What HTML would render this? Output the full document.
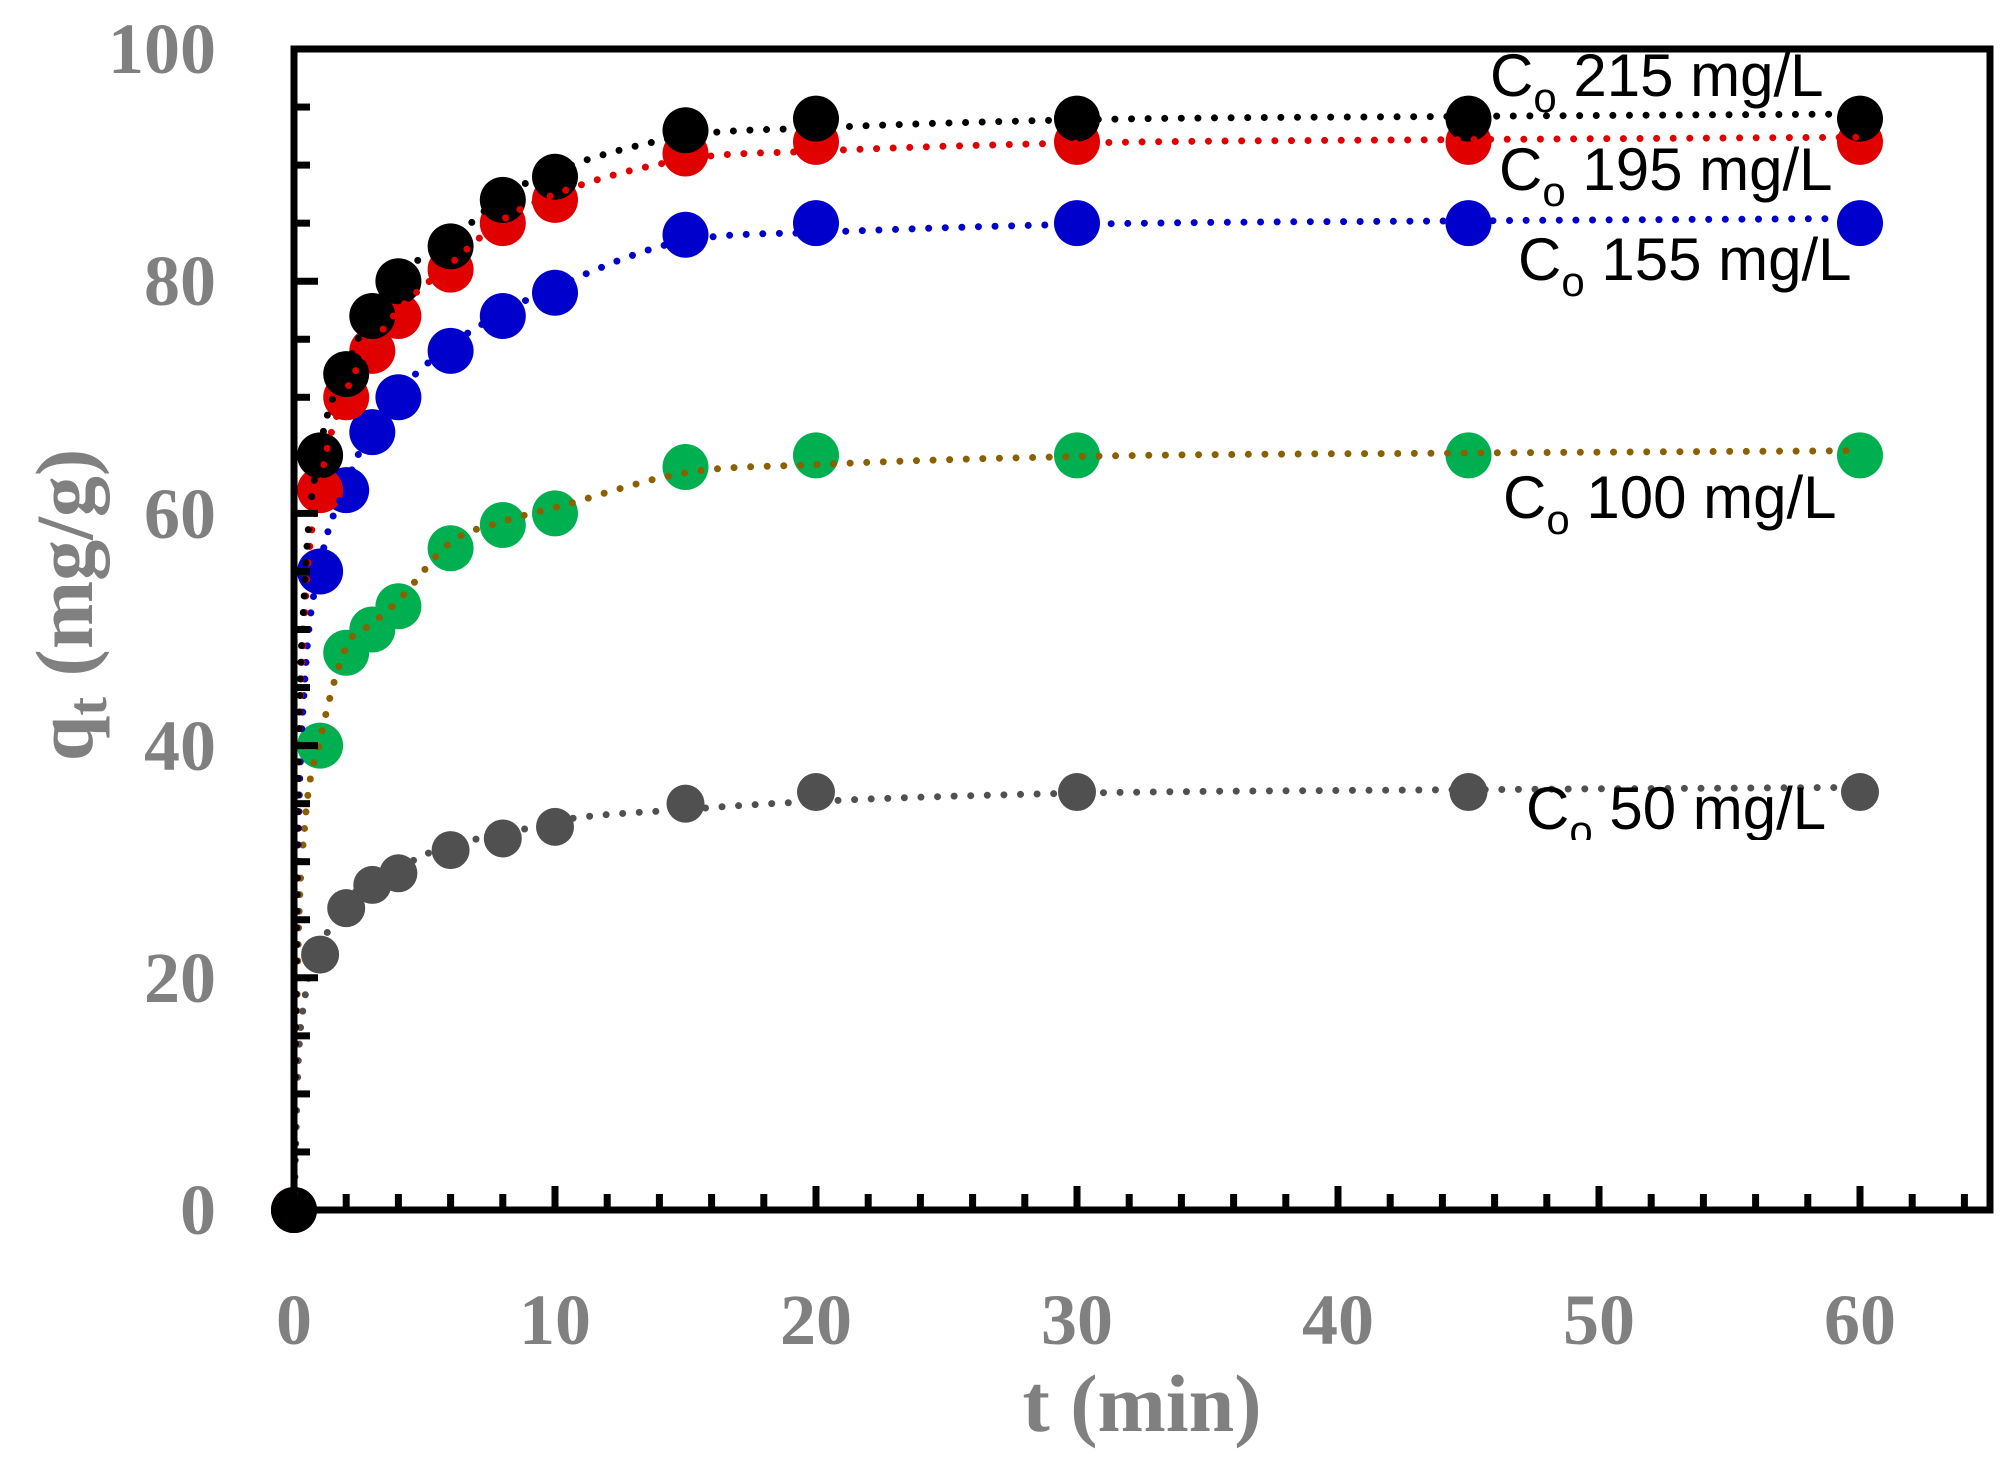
<!DOCTYPE html>
<html><head><meta charset="utf-8"><style>html,body{margin:0;padding:0;background:#fff}svg{display:block}</style></head>
<body>
<svg id="s" width="2016" height="1468" viewBox="0 0 2016 1468" xmlns="http://www.w3.org/2000/svg">
<rect width="2016" height="1468" fill="#fff"/>
<g id="plot"></g>
<g font-family="Liberation Serif, serif" font-weight="bold" fill="#808080" font-size="72">
<text x="216" y="73" text-anchor="end">100</text>
<text x="216" y="305" text-anchor="end">80</text>
<text x="216" y="538" text-anchor="end">60</text>
<text x="216" y="770" text-anchor="end">40</text>
<text x="216" y="1002" text-anchor="end">20</text>
<text x="216" y="1234" text-anchor="end">0</text>
<text x="294" y="1344" text-anchor="middle">0</text>
<text x="555" y="1344" text-anchor="middle">10</text>
<text x="816" y="1344" text-anchor="middle">20</text>
<text x="1077" y="1344" text-anchor="middle">30</text>
<text x="1338" y="1344" text-anchor="middle">40</text>
<text x="1599" y="1344" text-anchor="middle">50</text>
<text x="1860" y="1344" text-anchor="middle">60</text>
<text x="1142" y="1431" text-anchor="middle" font-size="82">t (min)</text>
<text transform="translate(92,605) rotate(-90)" text-anchor="middle" font-size="82">q<tspan font-size="56" dy="14">t</tspan><tspan dy="-14"> (mg/g)</tspan></text>
</g>
<g font-family="Liberation Sans, sans-serif" font-size="60" fill="#000">
<text x="1490" y="96">C<tspan font-size="42" dy="16">o</tspan><tspan dy="-16"> 215 mg/L</tspan></text>
<text x="1499" y="190">C<tspan font-size="42" dy="16">o</tspan><tspan dy="-16"> 195 mg/L</tspan></text>
<text x="1518" y="280">C<tspan font-size="42" dy="16">o</tspan><tspan dy="-16"> 155 mg/L</tspan></text>
<text x="1503" y="518">C<tspan font-size="42" dy="16">o</tspan><tspan dy="-16"> 100 mg/L</tspan></text>
<clipPath id="c50"><rect x="1500" y="760" width="400" height="80"/></clipPath>
<text x="1526" y="829" clip-path="url(#c50)">C<tspan font-size="42" dy="16">o</tspan><tspan dy="-16"> 50 mg/L</tspan></text>
</g>
</svg>
<script>
(function(){
var NS="http://www.w3.org/2000/svg",g=document.getElementById("plot");
var X0=294,XS=26.1,Y0=1210,YS=11.61;
function X(t){return X0+t*XS}function Y(q){return Y0-q*YS}
function el(n,a){var e=document.createElementNS(NS,n);for(var k in a)e.setAttribute(k,a[k]);g.appendChild(e);return e}
var T=[0,1,2,3,4,6,8,10,15,20,30,45,60];
var S=[
 {c:"#505050",lc:"#505050",r:19,q:[0,22,26,28,29,31,32,33,35,36,36,36,36]},
 {c:"#00b050",lc:"#8b6000",r:23,q:[0,40,48,50,52,57,59,60,64,65,65,65,65]},
 {c:"#0000cc",lc:"#0000cc",r:23,q:[0,55,62,67,70,74,77,79,84,85,85,85,85]},
 {c:"#e00000",lc:"#e00000",r:23,q:[0,62,70,74,77,81,85,87,91,92,92,92,92]},
 {c:"#000000",lc:"#000000",r:23,q:[0,65,72,77,80,83,87,89,93,94,94,94,94]}
];
// monotone cubic interpolation
function mono(xs,ys){var n=xs.length,d=[],m=[];for(var i=0;i<n-1;i++)d.push((ys[i+1]-ys[i])/(xs[i+1]-xs[i]));
 m[0]=d[0];m[n-1]=d[n-2];for(i=1;i<n-1;i++){m[i]=(d[i-1]*d[i]<=0)?0:(d[i-1]+d[i])/2;}
 for(i=0;i<n-1;i++){if(d[i]==0){m[i]=0;m[i+1]=0;continue;}var a=m[i]/d[i],b=m[i+1]/d[i],h=a*a+b*b;if(h>9){var tt=3/Math.sqrt(h);m[i]=tt*a*d[i];m[i+1]=tt*b*d[i];}}
 return function(x){var i=0;while(i<n-2&&x>xs[i+1])i++;var h=xs[i+1]-xs[i],t=(x-xs[i])/h,t2=t*t,t3=t2*t;
 return (2*t3-3*t2+1)*ys[i]+(t3-2*t2+t)*h*m[i]+(-2*t3+3*t2)*ys[i+1]+(t3-t2)*h*m[i+1];}}
S.forEach(function(s){T.forEach(function(t,i){el("circle",{cx:X(t),cy:Y(s.q[i]),r:s.r,fill:s.c})})});
S.forEach(function(s){
 var q=s.q,qe=q[12]+0.4;
 var xs=[0,0.15,0.4,1,2,3,4,6,8,10,15,20,30,45,60];
 var ys=[0,q[1]*0.55,q[1]*0.82,q[1]+0.5,q[2]+0.5,q[3]+0.5,q[4]+0.5,q[5]+0.5,q[6]+0.3,q[7]+0.5,q[8]-0.5,q[9]-0.8,qe-0.5,qe-0.2,qe];
 var f=mono(xs,ys),d="";
 for(var i=0;i<=800;i++){var t=i*i/(800*800)*60;d+=(i?"L":"M")+X(t).toFixed(1)+","+Y(f(t)).toFixed(1)}
 el("path",{d:d,fill:"none",stroke:s.lc,"stroke-width":7,"stroke-linecap":"round","stroke-dasharray":"0 16.6"});
});
el("rect",{x:X0,y:49,width:1990-X0,height:Y0-49,fill:"none",stroke:"#000","stroke-width":7});
for(var v=5;v<100;v+=5){var L=(v%20==0)?24:16;el("line",{x1:X0,y1:Y(v),x2:X0+L,y2:Y(v),stroke:"#000","stroke-width":7})}
for(var t=2;t<=64;t+=2){var L=(t%10==0)?24:16;el("line",{x1:X(t),y1:Y0,x2:X(t),y2:Y0-L,stroke:"#000","stroke-width":7})}
})();
</script>
</body></html>
